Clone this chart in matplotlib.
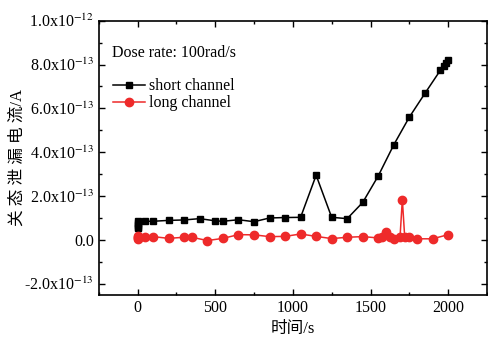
import numpy as np
import matplotlib.pyplot as plt
from matplotlib.ticker import MultipleLocator

plt.rcParams['font.family'] = ['Liberation Serif', 'Noto Sans CJK SC']
plt.rcParams['mathtext.fontset'] = 'stix'

# Irradiation time (s) and off-state leakage current (units of 1e-13 A)
short_time = [0, 0, 0, 0, 0, 50, 100, 200, 300, 400, 500, 550, 650, 750, 850,
              950, 1050, 1150, 1250, 1350, 1450, 1550, 1650, 1750, 1850,
              1950, 1970, 1985, 2000]
short_current = [0.88, 0.78, 0.68, 0.6, 0.54, 0.85, 0.85, 0.89, 0.91, 0.97,
                 0.87, 0.85, 0.92, 0.83, 1.00, 1.02, 1.03, 2.95, 1.03, 0.97,
                 1.71, 2.92, 4.34, 5.60, 6.68, 7.74, 7.94, 8.06, 8.21]

long_time = [0, 0, 0, 0, 50, 100, 200, 300, 350, 450, 550, 650, 750, 850,
             950, 1050, 1150, 1250, 1350, 1450, 1550, 1575, 1600, 1625, 1650,
             1690, 1705, 1720, 1750, 1800, 1900, 2000]
long_current = [0.02, 0.08, 0.14, 0.18, 0.12, 0.15, 0.07, 0.12, 0.12, -0.03,
                0.07, 0.24, 0.23, 0.15, 0.16, 0.27, 0.16, 0.06, 0.12, 0.15,
                0.09, 0.15, 0.34, 0.12, 0.05, 0.12, 1.84, 0.15, 0.12, 0.05,
                0.05, 0.24]

ytick_values = [-2e-13, 0, 2e-13, 4e-13, 6e-13, 8e-13, 1e-12]
ytick_labels = [r'-2.0x10$^{-13}$', '0.0', r'2.0x10$^{-13}$', r'4.0x10$^{-13}$',
                r'6.0x10$^{-13}$', r'8.0x10$^{-13}$', r'1.0x10$^{-12}$']

fig = plt.figure(figsize=(4.89, 3.42), dpi=100)
ax = fig.add_axes([0.2018, 0.1383, 0.7941, 0.8012])

ax.plot(short_time, np.array(short_current) * 1e-13, color='black', marker='s',
        markersize=5, linewidth=1.1, label='short channel')
ax.plot(long_time, np.array(long_current) * 1e-13, color='#ee2a2a', marker='o',
        markersize=6, linewidth=1.1, label='long channel')

ax.set_xlim(-250, 2250)
ax.set_ylim(-2.5e-13, 1.0e-12)
ax.xaxis.set_major_locator(MultipleLocator(500))
ax.xaxis.set_minor_locator(MultipleLocator(250))
ax.set_yticks(ytick_values)
ax.set_yticklabels(ytick_labels)
ax.yaxis.set_minor_locator(MultipleLocator(1e-13))

ax.tick_params(which='both', direction='in', top=True, right=True,
               labelsize=11.5, width=1)
ax.tick_params(which='major', length=4.5)
ax.tick_params(which='minor', length=2.5)
for spine in ax.spines.values():
    spine.set_linewidth(1.2)

ax.set_xlabel('时间/s', fontsize=12, labelpad=4)
ax.set_ylabel('关 态 泄 漏 电 流/A', fontsize=12)
ax.yaxis.set_label_coords(-0.187, 0.5)

ax.text(0.035, 0.882, 'Dose rate: 100rad/s', transform=ax.transAxes,
        fontsize=11.5, va='center', ha='left')
ax.legend(loc='upper left', bbox_to_anchor=(0.007, 0.83), frameon=False,
          fontsize=11.5, handlelength=2.0, handletextpad=0.3,
          labelspacing=0.05, borderpad=0.2)

fig.savefig('out.png', dpi=100)
